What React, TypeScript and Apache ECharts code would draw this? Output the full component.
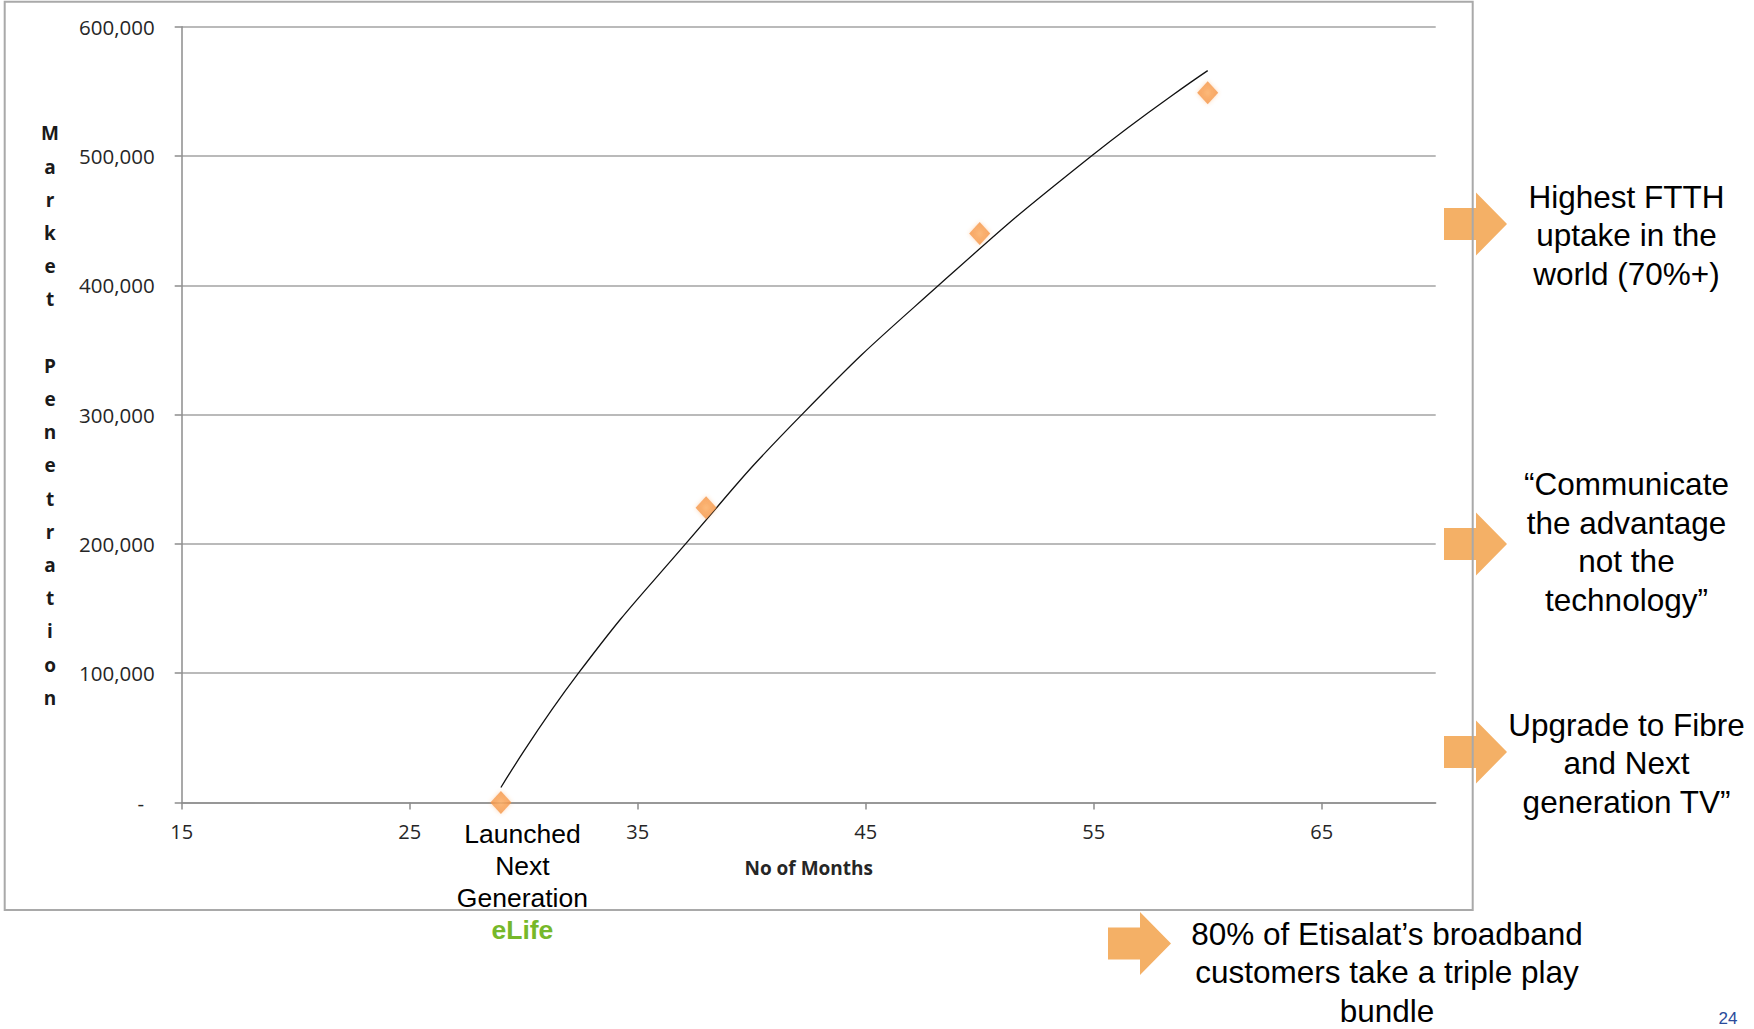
import React, { useEffect, useRef } from "react";
import * as echarts from "echarts";

// ---- data ----
const months = [29, 38, 50, 60];
const penetration = [0, 228000, 440000, 549000];
// trend line
const trendMonths = [29, 32.4, 37.1, 42.2, 48.2, 54.9, 60];
const trendValues = [11600, 100000, 200000, 300000, 400000, 500000, 566000];
const xTicks = [15, 25, 35, 45, 55, 65];
const yAxisTitle = "Market Penetration";
const xAxisTitle = "No of Months";
const noteFTTH = "Highest FTTH\nuptake in the\nworld (70%+)";
const noteCommunicate = "\u201CCommunicate\nthe advantage\nnot the\ntechnology\u201D";
const noteUpgrade = "Upgrade to Fibre\nand Next\ngeneration TV\u201D";
const noteBundle = "80% of Etisalat\u2019s broadband\ncustomers take a triple play\nbundle";
const launchLines = ["Launched", "Next", "Generation"];
const launchBrand = "eLife";
const pageNumber = "24";

const ARROW = "#F4B066";
const SANS = "'Liberation Sans', Arial, sans-serif";
const AXISFONT = "'Open Sans', sans-serif";

function arrow(tipX: number, tipY: number) {
  const headLen = 31;
  const bodyLen = 32;
  const headHalf = 31.5;
  const bodyHalf = 16;
  const hx = tipX - headLen;
  const bx = hx - bodyLen;
  return {
    type: "polygon",
    z: 50,
    shape: {
      points: [
        [bx, tipY - bodyHalf],
        [hx, tipY - bodyHalf],
        [hx, tipY - headHalf],
        [tipX, tipY],
        [hx, tipY + headHalf],
        [hx, tipY + bodyHalf],
        [bx, tipY + bodyHalf],
      ],
    },
    style: { fill: ARROW },
  };
}

function note(text: string, x: number, y: number) {
  return {
    type: "text",
    z: 60,
    x,
    y,
    style: {
      text,
      fill: "#000",
      font: `31.5px ${SANS}`,
      align: "center",
      verticalAlign: "middle",
      lineHeight: 38.5,
    },
  };
}

export default function App() {
  const ref = useRef<HTMLDivElement>(null);

  useEffect(() => {
    document.body.style.margin = "0";
    if (!ref.current) return;
    const chart = echarts.init(ref.current, undefined, { renderer: "svg" });

    const scatterData = months.map((m, i) => [m, penetration[i]]);
    const trendData = trendMonths.map((m, i) => [m, trendValues[i]]);

    const option: any = {
      animation: false,
      backgroundColor: "#ffffff",
      grid: { left: 181.7, top: 26.7, right: 318.3, bottom: 226.5, containLabel: false },
      xAxis: {
        type: "value",
        min: 15,
        max: 70,
        name: xAxisTitle,
        nameLocation: "middle",
        nameGap: 56,
        nameTextStyle: { fontFamily: AXISFONT, fontSize: 19, fontWeight: "bold", color: "#262626" },
        axisLine: { show: true, onZero: false, lineStyle: { color: "#8c8c8c", width: 1.5 } },
        axisTick: { show: true, length: 7, customValues: xTicks, lineStyle: { color: "#8c8c8c", width: 1.5 } },
        axisLabel: {
          customValues: xTicks,
          margin: 19,
          fontFamily: AXISFONT,
          fontSize: 20,
          color: "#262626",
        },
        splitLine: { show: false },
      },
      yAxis: {
        type: "value",
        min: 0,
        max: 600000,
        interval: 100000,
        axisLine: { show: true, lineStyle: { color: "#8c8c8c", width: 1.5 } },
        axisTick: { show: true, length: 7, lineStyle: { color: "#8c8c8c", width: 1.5 } },
        axisLabel: {
          margin: 27,
          fontFamily: AXISFONT,
          fontSize: 20.5,
          color: "#262626",
          formatter: (v: number) => (v === 0 ? "-\u00a0\u00a0" : v.toLocaleString("en-US")),
        },
        splitLine: { show: true, lineStyle: { color: "#a3a3a3", width: 1.5 } },
      },
      series: [
        {
          type: "line",
          data: trendData,
          smooth: 0.5,
          showSymbol: false,
          symbol: "none",
          lineStyle: { color: "#111", width: 1.3 },
          z: 2,
        },
        {
          type: "scatter",
          data: scatterData,
          symbol: "diamond",
          symbolSize: [21, 23],
          itemStyle: {
            color: {
              type: "radial",
              x: 0.5,
              y: 0.5,
              r: 0.6,
              colorStops: [
                { offset: 0, color: "#FBB068" },
                { offset: 1, color: "#F48E3E" },
              ],
            },
            shadowBlur: 4,
            shadowColor: "rgba(247,150,70,0.45)",
          },
          z: 3,
        },
      ],
      graphic: [
        // vertical y axis title
        {
          type: "text",
          x: 50,
          y: 415.5,
          z: 60,
          style: {
            text: yAxisTitle.split("").join("\n"),
            font: `bold 19px ${AXISFONT}`,
            fill: "#1a1a1a",
            align: "center",
            verticalAlign: "middle",
            lineHeight: 33.2,
          },
        },
        arrow(1507, 224),
        arrow(1507, 544),
        arrow(1507, 752),
        arrow(1171, 943.5),
        note(noteFTTH, 1626.5, 235),
        note(noteCommunicate, 1626.5, 542),
        note(noteUpgrade, 1626.5, 763),
        note(noteBundle, 1387, 972),
        {
          type: "text",
          x: 522.4,
          y: 881.5,
          z: 60,
          style: {
            text: launchLines.map((l) => `{a|${l}}`).join("\n") + `\n{b|${launchBrand}}`,
            align: "center",
            verticalAlign: "middle",
            rich: {
              a: { font: `26.5px ${SANS}`, fill: "#000", lineHeight: 32, align: "center" },
              b: { font: `bold 26.5px ${SANS}`, fill: "#76B82A", lineHeight: 32, align: "center" },
            },
          },
        },
        {
          type: "text",
          x: 1728,
          y: 1010,
          z: 60,
          style: {
            text: pageNumber,
            font: `17px ${SANS}`,
            fill: "#2A4B9B",
            align: "center",
            verticalAlign: "top",
          },
        },
        // chart frame
        {
          type: "rect",
          z: 100,
          shape: { x: 4.7, y: 1.7, width: 1468, height: 908.3 },
          style: { fill: "none", stroke: "#a9a9a9", lineWidth: 2 },
        },
      ],
    };

    chart.setOption(option);
    return () => chart.dispose();
  }, []);

  return <div ref={ref} style={{ width: 1754, height: 1029 }} />;
}
